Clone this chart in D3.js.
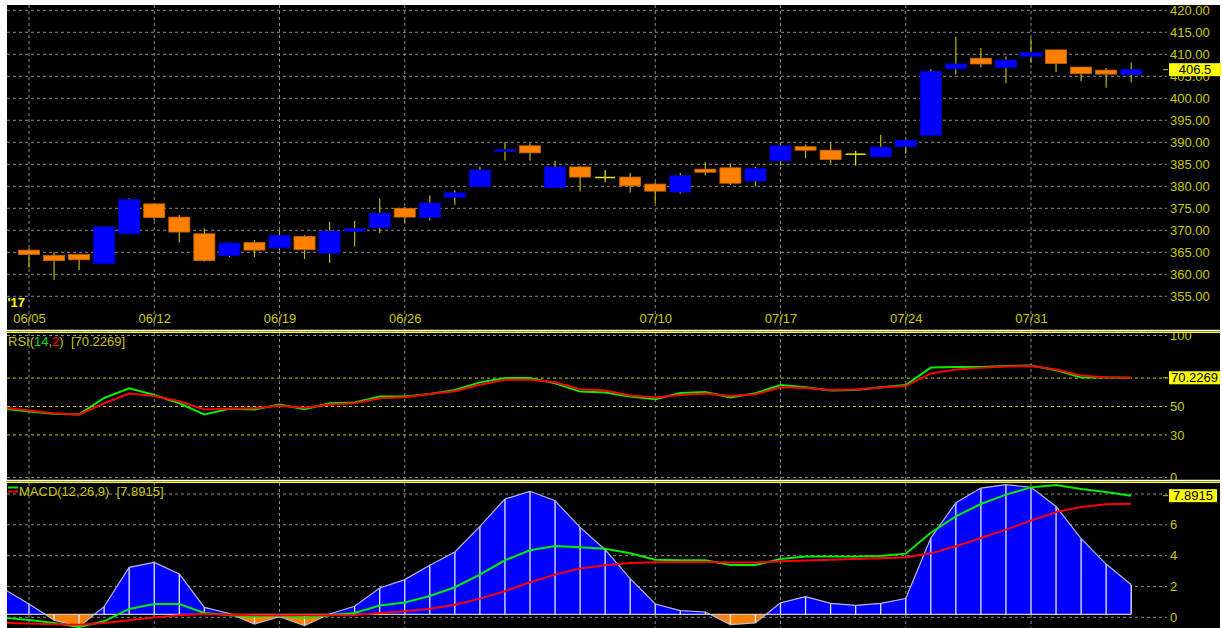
<!DOCTYPE html>
<html>
<head>
<meta charset="utf-8">
<script src="https://cdn.jsdelivr.net/npm/d3@7"></script>
<style>
  html, body { margin: 0; padding: 0; background: #fff; }
  svg { display: block; font-family: "Liberation Sans", Arial, sans-serif; }
  text { white-space: pre; }
</style>
</head>
<body>
<svg id="chart" width="1222" height="628"></svg>
<script>
// ---- data ----
const dates = [
  '06/05','06/06','06/07','06/08','06/09','06/12','06/13','06/14','06/15','06/16',
  '06/19','06/20','06/21','06/22','06/23','06/26','06/27','06/28','06/29','06/30',
  '07/03','07/04','07/05','07/06','07/07','07/10','07/11','07/12','07/13','07/14',
  '07/17','07/18','07/19','07/20','07/21','07/24','07/25','07/26','07/27','07/28',
  '07/31','08/01','08/02','08/03','08/04'
];
const tickDates = ['06/05','06/12','06/19','06/26','07/10','07/17','07/24','07/31'];

const openPx  = [365.5,364.3,364.5,362.4,369.2,376.0,373.0,369.2,364.3,367.2,
                 366.0,368.6,364.8,369.8,370.6,375.0,372.9,377.5,379.9,388.0,
                 389.2,379.7,384.4,382.0,382.1,380.5,378.7,383.9,384.2,381.2,
                 385.8,389.0,388.2,387.3,386.7,389.0,391.6,406.7,409.1,407.0,
                 409.5,411.0,407.1,406.4,405.4];
const highPx  = [365.9,365.0,364.6,370.8,377.3,376.0,373.5,370.4,367.1,367.8,
                 369.9,368.9,371.9,372.1,377.2,375.3,377.9,379.1,384.5,390.0,
                 389.8,385.8,384.6,383.7,383.1,380.9,383.0,385.5,385.2,384.4,
                 390.0,389.5,389.8,388.0,391.7,390.6,406.6,414.0,411.4,409.5,
                 413.6,411.0,407.1,406.9,408.1];
const lowPx   = [361.5,358.7,361.0,362.4,369.2,372.2,367.2,362.9,363.9,363.9,
                 365.4,363.5,362.6,366.3,369.4,371.7,372.2,375.8,379.9,385.8,
                 385.8,379.7,378.8,380.9,378.6,376.2,378.3,382.5,380.3,380.0,
                 384.7,386.4,385.2,384.7,386.7,387.4,391.6,405.4,407.0,403.4,
                 408.1,406.0,403.9,402.4,403.6];
const closePx = [364.5,363.1,363.3,370.8,377.0,372.9,369.6,363.1,367.1,365.5,
                 368.8,365.6,369.8,370.4,373.9,373.0,376.2,378.5,383.7,388.3,
                 387.6,384.4,382.1,382.0,380.1,378.9,382.4,383.2,380.7,384.0,
                 389.2,388.2,386.1,387.3,388.9,390.5,406.1,407.8,407.8,408.7,
                 410.4,407.9,405.6,405.5,406.5];

// indicator series start one bar before 06/05 (index -1)
const rsiFast = [48.4,46.5,44.9,44.4,56.0,62.8,58.1,52.3,44.4,48.4,47.9,
                 51.4,48.1,52.3,52.8,57.0,57.0,58.8,61.6,67.0,70.0,
                 70.0,66.3,60.5,59.8,57.0,55.1,59.5,60.2,56.3,59.3,
                 65.1,63.5,61.2,61.6,63.5,65.1,77.4,77.9,77.9,78.6,
                 78.8,75.6,70.5,70.5,70.2];
const rsiSlow = [49.1,47.2,45.3,44.4,52.3,59.1,57.4,53.7,47.9,48.4,48.8,
                 50.5,49.1,51.4,52.3,55.8,56.5,58.8,60.7,65.3,68.8,
                 68.8,67.0,62.1,61.2,57.7,56.3,58.1,59.1,57.4,58.6,
                 63.5,63.0,61.6,61.9,63.3,64.4,73.3,76.0,77.2,78.1,
                 78.6,76.0,71.9,70.5,70.2];
const macdLine = [-0.02,-0.17,-0.37,-0.63,-0.26,0.54,0.86,0.86,0.28,0.13,0.04,
                  0.11,-0.04,0.13,0.28,0.76,0.96,1.38,1.95,2.77,3.70,
                  4.35,4.63,4.54,4.45,4.15,3.74,3.70,3.70,3.39,3.39,
                  3.78,3.94,3.94,3.94,3.98,4.13,5.49,6.55,7.35,7.96,
                  8.43,8.58,8.32,8.13,7.89];
const signalLine = [-0.37,-0.41,-0.45,-0.48,-0.37,-0.19,-0.02,0.13,0.22,0.17,0.13,
                    0.13,0.13,0.13,0.15,0.28,0.39,0.56,0.82,1.21,1.69,
                    2.27,2.77,3.16,3.37,3.52,3.57,3.59,3.59,3.55,3.55,
                    3.63,3.68,3.74,3.78,3.83,3.89,4.15,4.61,5.15,5.69,
                    6.27,6.83,7.16,7.33,7.37];
const histValues = [1.64,0.67,-0.38,-0.80,0.50,3.05,3.37,2.62,0.45,0.05,-0.63,
                    -0.15,-0.74,0.02,0.52,1.71,2.25,3.18,4.04,5.71,7.48,
                    7.98,7.37,5.64,4.19,2.31,0.67,0.24,0.15,-0.67,-0.56,
                    0.74,1.15,0.71,0.58,0.71,1.02,4.95,7.24,8.19,8.41,
                    8.24,7.00,4.91,3.26,1.92];

const priceTicks = d3.range(355, 421, 5);
const rsiGrid = [0, 100];
const rsiLevels = [30, 50, 70];
const rsiLabels = [0, 30, 50, 100];
const macdGrid = [0, 2, 4, 6, 8];
const macdLabels = [0, 2, 4, 6];
const lastPrice = '406.5', lastRsi = '70.2269', lastMacd = '7.8915';

// ---- layout ----
const LEFT = 7, RIGHT = 1220, GRID_RIGHT = 1167, AXIS_X = 1170;
const OLIVE = '#c8c800', GRID = '#8c8c8c';
const pricePanel = { id: 'pp', top: 5, bottom: 330 };
const rsiPanel = { id: 'rp', top: 333, bottom: 480 };
const macdPanel = { id: 'mp', top: 483, bottom: 628 };

const svg = d3.select('#chart');
svg.append('rect').attr('width', 1222).attr('height', 628).attr('fill', '#fff');
svg.append('rect').attr('x', LEFT).attr('y', 5)
  .attr('width', RIGHT - LEFT).attr('height', 628 - 5).attr('fill', '#000');

const x = d3.scaleLinear().domain([0, dates.length - 1]).range([29, 1131.2]);
const yPrice = d3.scaleLinear().domain([355, 420]).range([296.3, 10.3]);
const yRsi = d3.scaleLinear().domain([0, 100]).range([477.5, 335.5]);
const yMacd = d3.scaleLinear().domain([0, 8]).range([617.3, 494]);
const yHist = d3.scaleLinear().domain([0, 8]).range([614.3, 491]);

const defs = svg.append('defs');
[pricePanel, rsiPanel, macdPanel].forEach(p => {
  defs.append('clipPath').attr('id', 'clip-' + p.id)
    .append('rect').attr('x', LEFT).attr('y', p.top)
    .attr('width', RIGHT - LEFT).attr('height', p.bottom - p.top);
});

function panelGroup(p) {
  return svg.append('g').attr('clip-path', `url(#clip-${p.id})`);
}

// vertical + horizontal dashed grid for one panel
function drawGrid(g, p, yScale, ticks, color) {
  tickDates.forEach(d => {
    const xx = x(dates.indexOf(d));
    g.append('line').attr('x1', xx).attr('x2', xx).attr('y1', p.top).attr('y2', p.bottom)
      .attr('stroke', GRID).attr('stroke-dasharray', '3,3');
  });
  hLines(g, yScale, ticks, color);
}

function hLines(g, yScale, ticks, color) {
  ticks.forEach(t => {
    g.append('line').attr('x1', LEFT).attr('x2', GRID_RIGHT)
      .attr('y1', yScale(t)).attr('y2', yScale(t))
      .attr('stroke', color).attr('stroke-dasharray', '3,3');
  });
}

function drawAxis(g, yScale, ticks, fmt) {
  const ax = g.append('g').attr('transform', `translate(${AXIS_X},0)`)
    .call(d3.axisRight(yScale).tickValues(ticks).tickFormat(fmt).tickSize(0).tickPadding(0));
  ax.select('.domain').remove();
  ax.selectAll('text').attr('fill', OLIVE).attr('font-size', 13)
    .attr('font-family', '"Liberation Sans", Arial, sans-serif');
}

function valueBox(yPos, label, w) {
  svg.append('line').attr('x1', 1163).attr('x2', 1168).attr('y1', yPos).attr('y2', yPos)
    .attr('stroke', OLIVE);
  svg.append('rect').attr('x', 1169).attr('y', yPos - 6.5).attr('width', w).attr('height', 13)
    .attr('fill', '#ffff00');
  svg.append('text').attr('x', 1169 + w / 2).attr('y', yPos).attr('dy', '0.35em')
    .attr('text-anchor', 'middle').attr('font-size', 13).attr('fill', '#000').text(label);
}

// =========== price panel ===========
const gP = panelGroup(pricePanel);
drawGrid(gP, pricePanel, yPrice, priceTicks, GRID);

const candles = dates.map((d, i) => ({
  i, o: openPx[i], h: highPx[i], l: lowPx[i], c: closePx[i]
}));

// wicks
gP.selectAll('.wick').data(candles).join('line')
  .attr('x1', d => x(d.i)).attr('x2', d => x(d.i))
  .attr('y1', d => yPrice(d.h)).attr('y2', d => yPrice(d.l))
  .attr('stroke', d => d.o === d.c ? '#e8e800' : '#b8b800').attr('stroke-width', 1.2);

// bodies
gP.selectAll('.body').data(candles.filter(d => d.o !== d.c)).join('rect')
  .attr('x', d => x(d.i) - 10.5).attr('width', 21)
  .attr('y', d => yPrice(Math.max(d.o, d.c)))
  .attr('height', d => Math.max(1.5, Math.abs(yPrice(d.o) - yPrice(d.c))))
  .attr('fill', d => d.c > d.o ? '#0000ff' : '#ff8000')
  .attr('stroke', d => d.c > d.o ? '#0000d0' : '#c86400').attr('stroke-width', 0.8);

// doji crosses
gP.selectAll('.doji').data(candles.filter(d => d.o === d.c)).join('line')
  .attr('x1', d => x(d.i) - 10).attr('x2', d => x(d.i) + 10)
  .attr('y1', d => yPrice(d.c)).attr('y2', d => yPrice(d.c))
  .attr('stroke', '#e8e800').attr('stroke-width', 1.5);

// price labels; the one under the last-price box is cut to its lower half
drawAxis(gP, yPrice, priceTicks.filter(t => t !== 405), d3.format('.2f'));
defs.append('clipPath').attr('id', 'clip-under-box')
  .append('rect').attr('x', AXIS_X).attr('y', yPrice(+lastPrice) + 6.5)
  .attr('width', 60).attr('height', 12);
drawAxis(gP.append('g').attr('clip-path', 'url(#clip-under-box)'), yPrice, [405], d3.format('.2f'));

// date labels
const dAx = gP.append('g').attr('transform', 'translate(0,313.5)')
  .call(d3.axisBottom(x).tickValues(tickDates.map(d => dates.indexOf(d)))
    .tickFormat(i => dates[i]).tickSize(0).tickPadding(0));
dAx.select('.domain').remove();
dAx.selectAll('text').attr('fill', OLIVE).attr('font-size', 13)
  .attr('font-family', '"Liberation Sans", Arial, sans-serif');

gP.append('text').attr('x', 7.5).attr('y', 307).attr('font-size', 13)
  .attr('font-weight', 'bold').attr('fill', '#ffff00').text("'17");

// =========== RSI panel ===========
const gR = panelGroup(rsiPanel);
drawGrid(gR, rsiPanel, yRsi, rsiGrid, GRID);
hLines(gR, yRsi, rsiLevels, OLIVE);

const indLine = (yScale) => d3.line().x((d, k) => x(k - 1)).y(d => yScale(d));
gR.append('path').attr('d', indLine(yRsi)(rsiFast))
  .attr('fill', 'none').attr('stroke', '#00ee00').attr('stroke-width', 2);
gR.append('path').attr('d', indLine(yRsi)(rsiSlow))
  .attr('fill', 'none').attr('stroke', '#ff0000').attr('stroke-width', 2);
drawAxis(gR, yRsi, rsiLabels, d3.format('d'));

const rsiLegend = gR.append('text').attr('x', 8).attr('y', 346).attr('font-size', 13).attr('fill', OLIVE);
rsiLegend.append('tspan').text('RSI(');
rsiLegend.append('tspan').attr('fill', '#00dd00').text('14');
rsiLegend.append('tspan').text(',');
rsiLegend.append('tspan').attr('fill', '#ff0000').text('2');
rsiLegend.append('tspan').text(')  [' + lastRsi + ']');

// =========== MACD panel ===========
const gM = panelGroup(macdPanel);
drawGrid(gM, macdPanel, yMacd, macdGrid, GRID);

// histogram with zero crossings inserted
const histPts = [];
histValues.forEach((v, k) => {
  const idx = k - 1;
  if (k > 0) {
    const prev = histValues[k - 1];
    if ((prev < 0 && v > 0) || (prev > 0 && v < 0)) {
      histPts.push({ i: idx - 1 + prev / (prev - v), v: 0 });
    }
  }
  histPts.push({ i: idx, v });
});
gM.append('path')
  .attr('d', d3.area().x(d => x(d.i)).y0(yHist(0)).y1(d => yHist(Math.max(0, d.v)))(histPts))
  .attr('fill', '#0000ff');
gM.append('path')
  .attr('d', d3.area().x(d => x(d.i)).y0(yHist(0)).y1(d => yHist(Math.min(0, d.v)))(histPts))
  .attr('fill', '#ff8000');
gM.selectAll('.bar').data(histValues).join('line')
  .attr('x1', (d, k) => x(k - 1)).attr('x2', (d, k) => x(k - 1))
  .attr('y1', yHist(0)).attr('y2', d => yHist(d))
  .attr('stroke', '#e8e8ff').attr('stroke-width', 1.3);
gM.append('path').attr('d', d3.line().x(d => x(d.i)).y(d => yHist(d.v))(histPts))
  .attr('fill', 'none').attr('stroke', '#b8b8d8').attr('stroke-width', 1.2);
gM.append('line').attr('x1', x(-1)).attr('x2', x(dates.length - 1))
  .attr('y1', yHist(0)).attr('y2', yHist(0)).attr('stroke', '#c8c8c8').attr('stroke-width', 1.2);

gM.append('path').attr('d', indLine(yMacd)(macdLine))
  .attr('fill', 'none').attr('stroke', '#00ee00').attr('stroke-width', 2);
gM.append('path').attr('d', indLine(yMacd)(signalLine))
  .attr('fill', 'none').attr('stroke', '#ff0000').attr('stroke-width', 2);
drawAxis(gM, yMacd, macdLabels, d3.format('d'));

gM.append('line').attr('x1', 8).attr('x2', 18).attr('y1', 487.5).attr('y2', 487.5)
  .attr('stroke', '#00ee00').attr('stroke-width', 2);
gM.append('line').attr('x1', 8).attr('x2', 18).attr('y1', 491.5).attr('y2', 491.5)
  .attr('stroke', '#ff0000').attr('stroke-width', 2);
gM.append('text').attr('x', 19).attr('y', 495.5).attr('font-size', 13).attr('fill', OLIVE)
  .text('MACD(12,26,9)  [' + lastMacd + ']');

// panel separators
[[330.5, 332.3], [480.5, 482.2]].forEach(([w, yl]) => {
  svg.append('line').attr('x1', LEFT).attr('x2', RIGHT).attr('y1', w).attr('y2', w)
    .attr('stroke', '#ffffff').attr('stroke-width', 1.6);
  svg.append('line').attr('x1', LEFT).attr('x2', RIGHT).attr('y1', yl).attr('y2', yl)
    .attr('stroke', '#ffff00').attr('stroke-width', 1.4);
});

// last value boxes
valueBox(yPrice(+lastPrice), lastPrice, 52);
valueBox(yRsi(+lastRsi), lastRsi, 51);
valueBox(yMacd(+lastMacd), lastMacd, 48);
</script>
</body>
</html>
